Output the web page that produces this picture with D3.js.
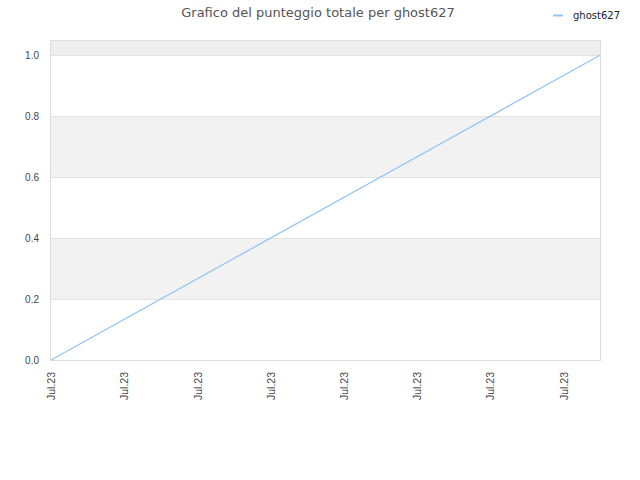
<!DOCTYPE html>
<html>
<head>
<meta charset="utf-8">
<script src="https://cdn.jsdelivr.net/npm/d3@7"></script>
<style>
  body { margin: 0; background: #fff; }
  svg { font-family: "DejaVu Sans", sans-serif; }
</style>
</head>
<body>
<svg id="chart" width="640" height="480"></svg>
<script>
// data
const tickLabels = ["Jul.23", "Jul.23", "Jul.23", "Jul.23", "Jul.23", "Jul.23", "Jul.23", "Jul.23"];
const seriesX = [0, 7.5];
const seriesY = [0, 1];
const yTicks = [0, 0.2, 0.4, 0.6, 0.8, 1.0];
const seriesName = "ghost627";

const svg = d3.select("#chart"),
    margin = {top: 40, right: 40, bottom: 120, left: 51},
    width = 600 - margin.left,
    height = 360 - margin.top;

const x = d3.scaleLinear().domain([0, 7.5]).range([0, width]),
    y = d3.scaleLinear().domain([0, 1.05]).range([height, 0]);

const g = svg.append("g")
    .attr("transform", "translate(" + margin.left + "," + margin.top + ")");

// alternating bands
const bands = [[1.0, 1.05, "#eeeeee"], [0.6, 0.8, "#f2f2f2"], [0.2, 0.4, "#f2f2f2"]];
g.selectAll(".band")
    .data(bands)
    .enter().append("rect")
    .attr("x", 0)
    .attr("width", width)
    .attr("y", d => y(d[1]))
    .attr("height", d => y(d[0]) - y(d[1]))
    .attr("fill", d => d[2]);

// grid lines
g.selectAll(".grid")
    .data(yTicks.slice(1))
    .enter().append("line")
    .attr("x1", 0).attr("x2", width)
    .attr("y1", d => Math.round(y(d)) + 0.5)
    .attr("y2", d => Math.round(y(d)) + 0.5)
    .attr("stroke", "#e2e2e2");

g.append("rect")
    .attr("x", -0.5).attr("y", 0.5)
    .attr("width", width + 1).attr("height", height)
    .attr("fill", "none")
    .attr("stroke", "#dddddd");

// y axis
const yAxis = g.append("g")
    .call(d3.axisLeft(y).tickValues(yTicks).tickFormat(d3.format(".1f")).tickSize(0).tickPadding(12));
yAxis.select(".domain").remove();
yAxis.selectAll("text").attr("fill", "#444").style("font-size", "10px");

// x axis
const xAxis = g.append("g")
    .attr("transform", "translate(0," + height + ")")
    .call(d3.axisBottom(x).tickValues(d3.range(tickLabels.length)).tickFormat(i => tickLabels[i]).tickSize(0));
xAxis.select(".domain").remove();
xAxis.selectAll("text")
    .attr("fill", "#444")
    .style("font-size", "10.5px")
    .attr("text-anchor", "end")
    .attr("transform", "rotate(-90)")
    .attr("x", -12)
    .attr("y", 0)
    .attr("dy", "0.35em");

// series line
const pts = seriesX.map((v, i) => [v, seriesY[i]]);
g.append("path")
    .datum(pts)
    .attr("fill", "none")
    .attr("stroke", "#94c6f5")
    .attr("stroke-width", 1.3)
    .attr("d", d3.line().x(d => x(d[0])).y(d => y(d[1])));

// title
svg.append("text")
    .attr("x", 318).attr("y", 17)
    .attr("text-anchor", "middle")
    .attr("fill", "#555")
    .style("font-size", "13px")
    .text("Grafico del punteggio totale per " + seriesName);

// legend
svg.append("line")
    .attr("x1", 553).attr("x2", 563)
    .attr("y1", 15.5).attr("y2", 15.5)
    .attr("stroke", "#94c6f5").attr("stroke-width", 2);
svg.append("text")
    .attr("x", 573).attr("y", 19)
    .attr("fill", "#222")
    .style("font-size", "10px")
    .text(seriesName);
</script>
</body>
</html>
